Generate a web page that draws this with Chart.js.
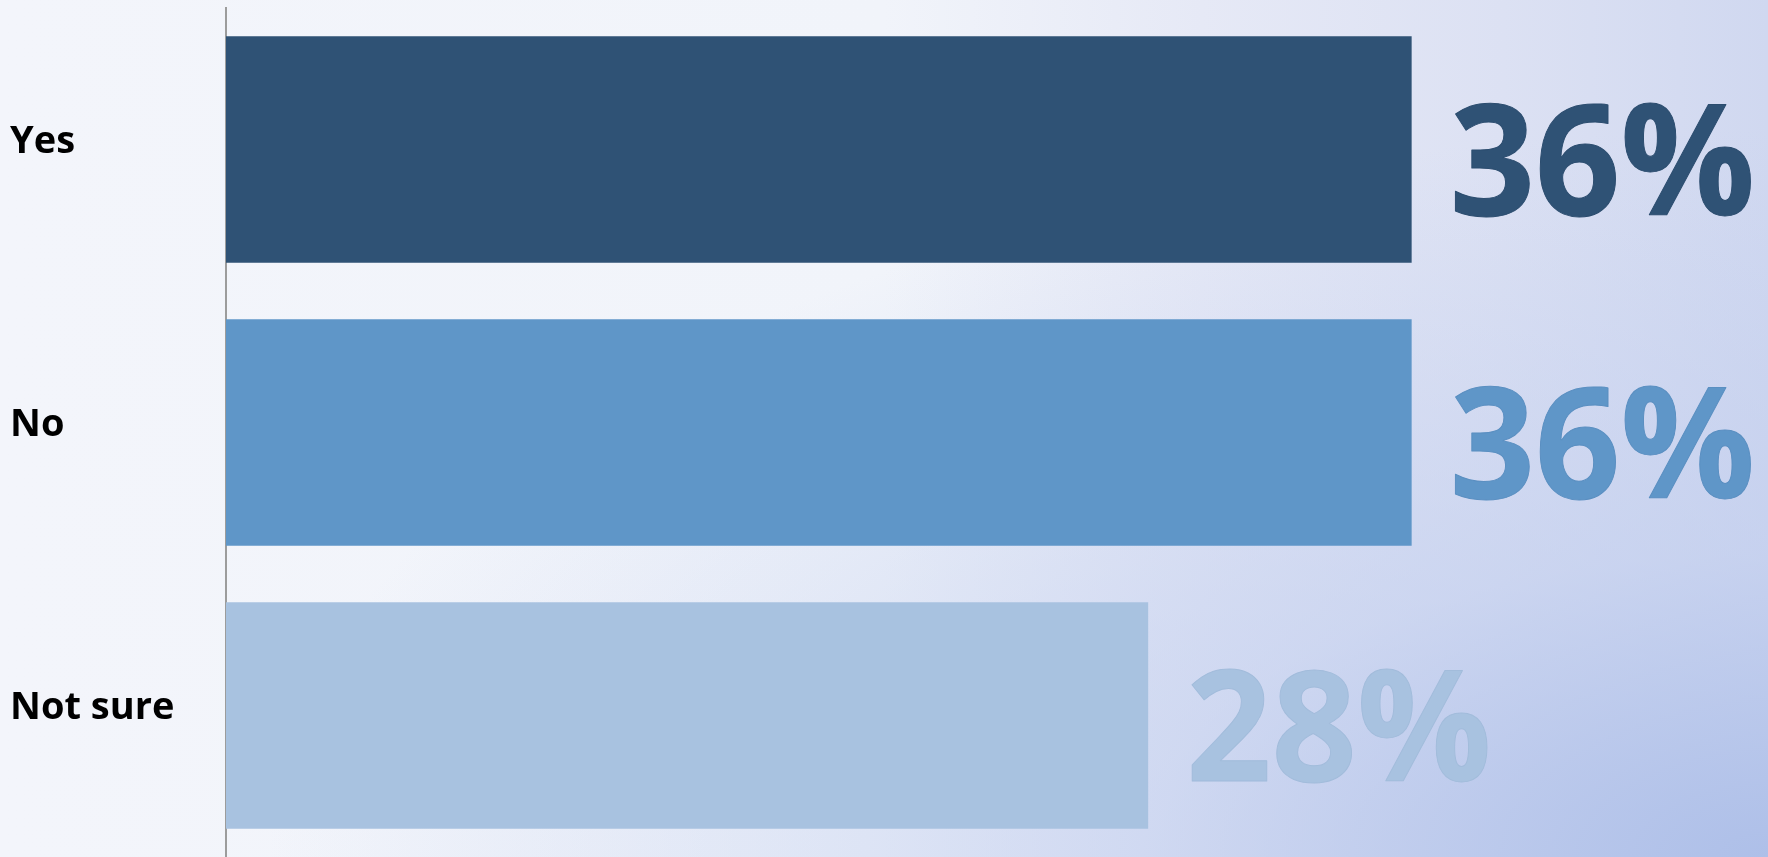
<!DOCTYPE html>
<html>
<head>
<meta charset="utf-8">
<title>Yes / No / Not sure</title>
<script src="https://cdn.jsdelivr.net/npm/chart.js@4.4.1/dist/chart.umd.min.js"></script>
<style>
	html, body {
		margin: 0;
		padding: 0;
		overflow: hidden;
	}
	body {
		width: 1768px;
		height: 857px;
		background:
			radial-gradient(ellipse at 100% 100%, rgba(172, 190, 232, 0.95) 0%, rgba(192, 205, 238, 0.6) 25%, rgba(222, 228, 246, 0) 60%),
			linear-gradient(90deg, #f3f5fb 0%, #f1f4fa 50%, #e6e9f6 68%, #dce1f3 85%, #d0d8f0 100%);
	}
	#wrap {
		position: relative;
		width: 1768px;
		height: 857px;
	}
</style>
</head>
<body>
<div id="wrap"><canvas id="answerChart"></canvas></div>
<script>
	const categories = ['Yes', 'No', 'Not sure'];
	const values = [36, 36, 28];
	const valueLabels = ['36%', '36%', '28%'];
	const barColors = ['#2f5275', '#5f96c8', '#a8c2e0'];
	const labelStroke = ['#2c4d6f', '#5a8fc1', '#a2bcdb'];

	// so lon chu so % canh cuoi moi thanh
	const bigLabels = {
		id: 'bigLabels',
		afterDatasetsDraw(chart) {
			const ctx = chart.ctx;
			const meta = chart.getDatasetMeta(0);
			ctx.save();
			ctx.font = 'bold 154px "Open Sans"';
			ctx.textAlign = 'left';
			ctx.textBaseline = 'alphabetic';
			ctx.lineJoin = 'round';
			meta.data.forEach((bar, i) => {
				ctx.save();
				ctx.translate(bar.x + 38, bar.y + 65);
				ctx.scale(0.97, 1);
				ctx.fillStyle = barColors[i];
				ctx.fillText(valueLabels[i], 0, 0);
				ctx.lineWidth = 1;
				ctx.strokeStyle = labelStroke[i];
				ctx.strokeText(valueLabels[i], 0, 0);
				ctx.restore();
			});
			ctx.restore();
		}
	};

	var ctx1 = document.getElementById('answerChart').getContext('2d');
	window.answerChart = new Chart(ctx1, {
		type: 'bar',
		data: {
			labels: categories,
			datasets: [{
				data: values,
				backgroundColor: barColors,
				borderWidth: 0,
				categoryPercentage: 1,
				barPercentage: 0.8
			}]
		},
		plugins: [bigLabels],
		options: {
			responsive: true,
			maintainAspectRatio: false,
			animation: false,
			indexAxis: 'y',
			layout: {
				padding: { left: 10, right: 27, top: 8, bottom: 0 }
			},
			plugins: {
				legend: { display: false },
				tooltip: { enabled: false }
			},
			scales: {
				x: {
					display: false,
					min: 0,
					max: 46
				},
				y: {
					grid: {
						display: false
					},
					border: {
						display: true,
						color: '#9c9c9c',
						width: 2
					},
					ticks: {
						crossAlign: 'far',
						labelOffset: -7,
						color: '#000',
						font: {
							family: '"Open Sans"',
							size: 38,
							weight: 'bold'
						}
					},
					afterFit(scale) {
						scale.width = 216;
						scale.paddingTop = 0;
						scale.paddingBottom = 0;
					}
				}
			}
		}
	});
</script>
</body>
</html>
